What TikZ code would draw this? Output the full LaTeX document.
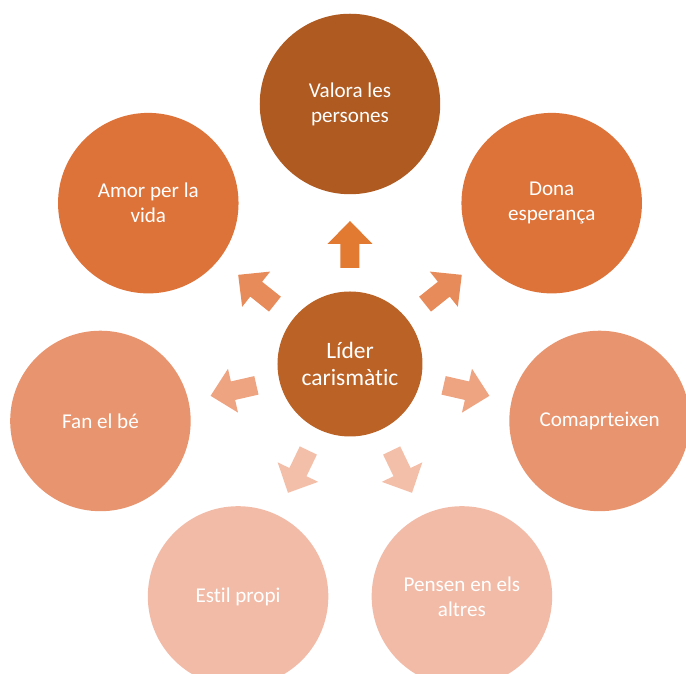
\documentclass[tikz,border=0pt]{standalone}
\usepackage{fontspec}
\setmainfont[RawFeature={-liga}]{Carlito}
\usepackage{tikz}

\definecolor{darkrust}{HTML}{AE5A21}
\definecolor{rust}{HTML}{BB6226}
\definecolor{orangeA}{HTML}{DE7339}
\definecolor{orangeB}{HTML}{E8956F}
\definecolor{orangeC}{HTML}{F2BBA7}
\definecolor{arrowA}{HTML}{E37A32}
\definecolor{arrowB}{HTML}{E88B5A}
\definecolor{arrowC}{HTML}{EEA381}
\definecolor{arrowD}{HTML}{F4BFA9}

\begin{document}
\begin{tikzpicture}[x=0.025cm, y=0.025cm,
  outer/.style={circle, minimum size=180.5*0.025cm, inner sep=0pt, text=white,
    align=center, font=\fontsize{15}{17.7}\selectfont},
  hub/.style={circle, fill=rust, minimum size=145*0.025cm, inner sep=0pt, text=white,
    align=center, font=\fontsize{16.7}{19.1}\selectfont}]
\useasboundingbox (-350,-310) rectangle (336,364);
\clip (-350,-310) rectangle (336,364);

\node[hub] (lider) at (0,0) {Líder\\carismàtic};

\node[outer, fill=darkrust] (valora) at (90:260) {Valora les\\persones};
\node[outer, fill=orangeA] (dona) at (38.57:258) {Dona\\esperança};
\node[outer, fill=orangeB] (comparteixen) at (-12.86:256) {Comaprteixen};
\node[outer, fill=orangeC] (pensen) at (-64.29:258) {Pensen en els\\altres};
\node[outer, fill=orangeC] (estil) at (-115.71:258) {Estil propi};
\node[outer, fill=orangeB] (fan) at (-167.14:256) {Fan el bé};
\node[outer, fill=orangeA] (amor) at (141.43:258) {Amor per la\\vida};

% block arrows from the hub
\foreach \a/\col in {90/arrowA, 38.57/arrowB, 141.43/arrowB, -12.86/arrowC,
    -167.14/arrowC, -64.29/arrowD, -115.71/arrowD}
  \fill[\col, rotate=\a] (96,-9.5) -- (120,-9.5) -- (120,-22.5) -- (143,0)
    -- (120,22.5) -- (120,9.5) -- (96,9.5) -- cycle;
\end{tikzpicture}
\end{document}
